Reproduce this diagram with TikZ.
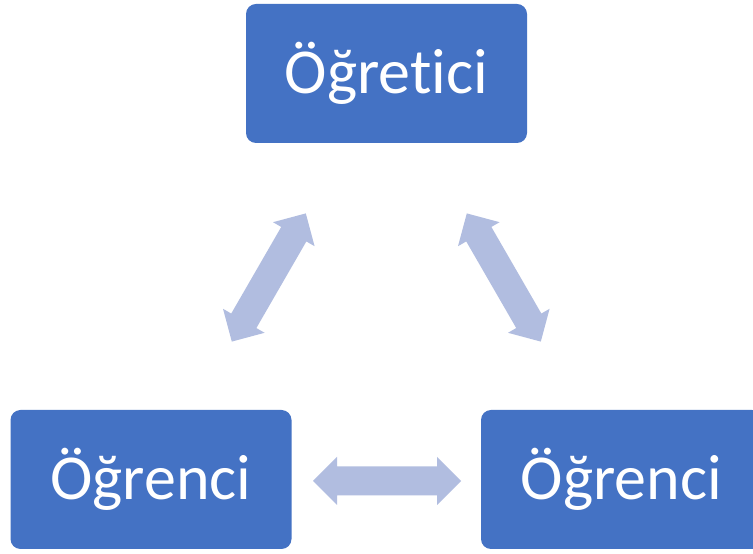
\documentclass[tikz,border=0pt]{standalone}
\usepackage{fontspec}
\setmainfont[Ligatures={NoCommon,NoContextual}]{Carlito}
\definecolor{boxblue}{HTML}{4472C4}
\definecolor{arrowblue}{HTML}{B1BDE0}
\tikzset{
  rolebox/.style={draw=none, fill=boxblue, rounded corners=10pt, minimum width=281pt, minimum height=139pt, inner sep=0pt, text=white, font=\fontsize{64}{70}\selectfont},
  blockarrow/.pic={
    \fill[arrowblue] (-74,0) -- (-50,24) -- (-50,14.5) -- (50,14.5) -- (50,24) -- (74,0)
      -- (50,-24) -- (50,-14.5) -- (-50,-14.5) -- (-50,-24) -- cycle;
  }
}
\begin{document}
\begin{tikzpicture}[x=1pt,y=1pt]
\clip (0,0) rectangle (753,554);
\fill[white] (0,0) rectangle (753,554);
\node[rolebox] (teacher) at (386.5,480.5) {Öğretici};
\node[rolebox] (studentL) at (151,74.5) {Öğrenci};
\node[rolebox] (studentR) at (621.5,74.5) {Öğrenci};
\pic[rotate=60] (arrL) at (268.8,276.5) {blockarrow};
\pic[rotate=-60] (arrR) at (503.8,276.5) {blockarrow};
\pic (arrB) at (387,73) {blockarrow};
\end{tikzpicture}
\end{document}
